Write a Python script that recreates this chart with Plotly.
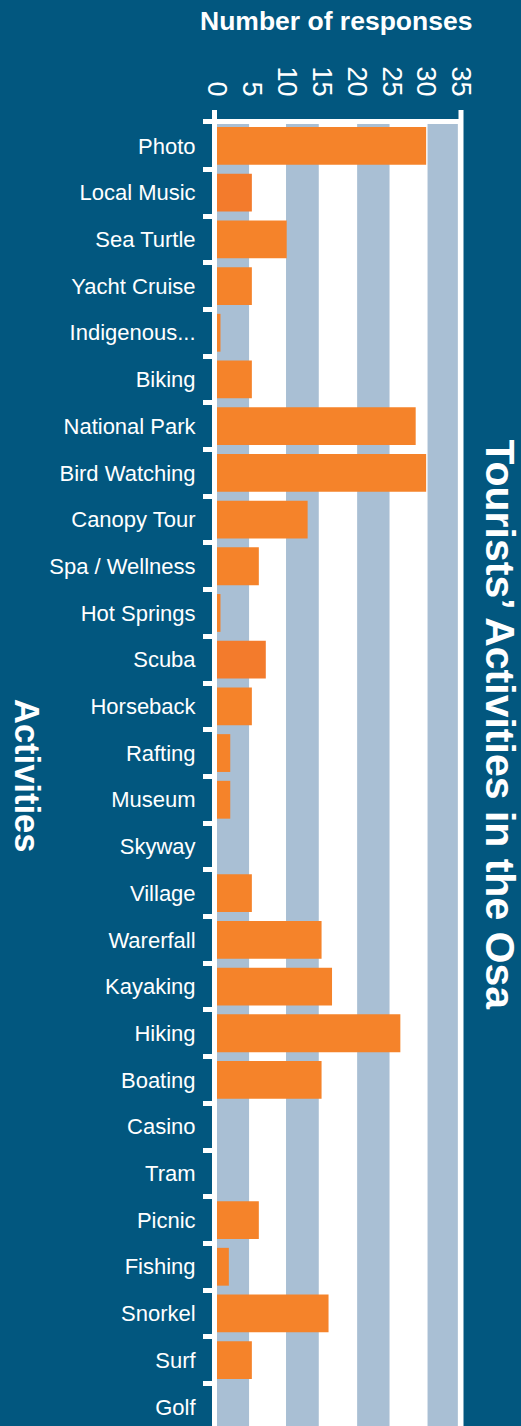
import plotly.graph_objects as go

# ---- data ----
activities = ["Photo", "Local Music", "Sea Turtle", "Yacht Cruise", "Indigenous...",
              "Biking", "National Park", "Bird Watching", "Canopy Tour", "Spa / Wellness",
              "Hot Springs", "Scuba", "Horseback", "Rafting", "Museum", "Skyway",
              "Village", "Warerfall", "Kayaking", "Hiking", "Boating", "Casino", "Tram",
              "Picnic", "Fishing", "Snorkel", "Surf", "Golf"]
responses = [30, 5, 10, 5, 0.5, 5, 28.5, 30, 13, 6, 0.5, 7, 5, 1.9, 1.9, 0,
             5, 15, 16.5, 26.3, 15, 0, 0, 6, 1.7, 16, 5, 0]
x_ticks = [0, 5, 10, 15, 20, 25, 30, 35]
band_starts = [0, 9.9, 20.1, 30.2]
band_ends = [4.6, 14.6, 24.75, 34.55]

# ---- styles ----
BG = "#02577f"
BAND = "#a9bfd4"
ORANGE = "#f5832a"
ORANGE_DARK = "#f37b2c"
FONT = "Liberation Sans, Arial, Helvetica, sans-serif"

W, H = 521, 1426
ML, MR, MT, MB = 217, 60, 124, 0
PW, PH = W - ML - MR, H - MT - MB

colors = [ORANGE_DARK if a in ("Local Music", "Scuba") else ORANGE for a in activities]

fig = go.Figure()
fig.add_trace(go.Bar(
    x=responses, y=activities, orientation="h",
    marker=dict(color=colors, line=dict(width=0)),
    hoverinfo="x+y",
))

shapes = []
for s, e in zip(band_starts, band_ends):
    shapes.append(dict(type="rect", xref="x", yref="paper", x0=s, x1=e, y0=0, y1=1,
                       fillcolor=BAND, line=dict(width=0), layer="below"))
ext = 14 / PH
# right white edge line (at x = 35)
shapes.append(dict(type="line", xref="paper", yref="paper", x0=1, x1=1, y0=0, y1=1 + ext,
                   line=dict(color="white", width=5), layer="above"))
# left axis top extension (outer tick at 0)
shapes.append(dict(type="line", xref="paper", yref="paper", x0=-2.5 / PW, x1=-2.5 / PW,
                   y0=1, y1=1 + ext, line=dict(color="white", width=5), layer="above"))
# outer tick of the category axis at the top
shapes.append(dict(type="line", xref="paper", yref="paper", x0=-14 / PW, x1=0,
                   y0=1 + 2.5 / PH, y1=1 + 2.5 / PH, line=dict(color="white", width=5),
                   layer="above"))

annotations = [
    dict(text="<b>Number of responses</b>", xref="paper", yref="paper",
         x=(335.5 - ML) / PW, y=(H - 21) / PH, xanchor="center", yanchor="middle",
         showarrow=False, font=dict(family=FONT, size=26.5, color="white")),
    dict(text="<b>Tourists’ Activities in the Osa</b>", xref="paper", yref="paper",
         x=(499.5 - ML) / PW, y=(H - 725) / PH, xanchor="center", yanchor="middle",
         textangle=90, showarrow=False, font=dict(family=FONT, size=41, color="white")),
    dict(text="<b>Activities</b>", xref="paper", yref="paper",
         x=(27 - ML) / PW, y=(H - 775) / PH, xanchor="center", yanchor="middle",
         textangle=90, showarrow=False, font=dict(family=FONT, size=34.5, color="white")),
]

fig.update_layout(
    width=W, height=H,
    margin=dict(l=ML, r=MR, t=MT, b=MB, pad=0),
    paper_bgcolor=BG, plot_bgcolor="white",
    bargap=0.19, showlegend=False,
    shapes=shapes, annotations=annotations,
    font=dict(family=FONT, color="white"),
    xaxis=dict(
        side="top", range=[0, 35], tickvals=x_ticks, ticktext=[str(v) for v in x_ticks],
        tickangle=90, tickfont=dict(family=FONT, size=27, color="white"),
        showgrid=False, zeroline=False, ticks="",
        showline=True, linecolor="white", linewidth=5,
        ticklabelstandoff=13,
    ),
    yaxis=dict(
        type="category", categoryorder="array", categoryarray=activities,
        range=[27.41, -0.47], showgrid=False, zeroline=False,
        showline=True, linecolor="white", linewidth=5,
        ticks="outside", tickson="boundaries", ticklen=9, tickwidth=5, tickcolor="white",
        tickfont=dict(family=FONT, size=22, color="white"),
        ticklabelstandoff=12,
    ),
)

fig.write_html(
    "out.html",
    config={"displayModeBar": False},
    post_script="document.body.style.margin='0';document.body.style.background='%s';" % BG,
)
